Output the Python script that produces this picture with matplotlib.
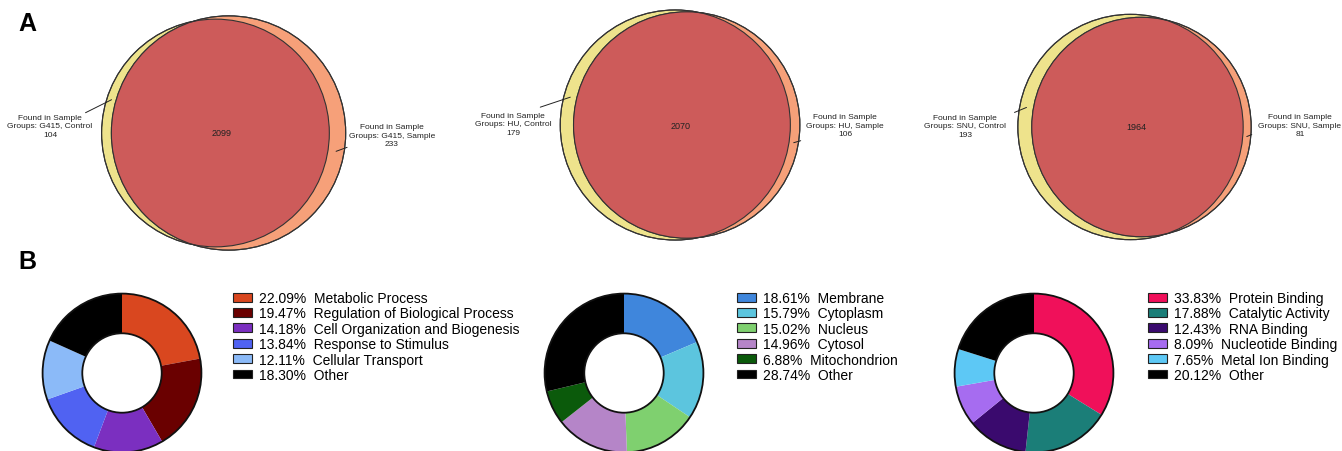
import numpy as np
import matplotlib
matplotlib.use('Agg')
import matplotlib.pyplot as plt
from matplotlib.patches import Circle, Patch

plt.rcParams['font.family'] = ['Liberation Sans', 'DejaVu Sans']

# Venn counts: (control only, shared, sample only)
venn_groups = ['G415', 'HU', 'SNU']
control_only = [104, 179, 193]
shared = [2099, 2070, 1964]
sample_only = [233, 106, 81]

# GO categories
bp_names = ['Metabolic Process', 'Regulation of Biological Process', 'Cell Organization and Biogenesis',
            'Response to Stimulus', 'Cellular Transport', 'Other']
bp_pct = [22.09, 19.47, 14.18, 13.84, 12.11, 18.30]
bp_colors = ['#d9471f', '#6a0000', '#7b2fc0', '#5062f2', '#8bbaf8', '#000000']

cc_names = ['Membrane', 'Cytoplasm', 'Nucleus', 'Cytosol', 'Mitochondrion', 'Other']
cc_pct = [18.61, 15.79, 15.02, 14.96, 6.88, 28.74]
cc_colors = ['#3f86dc', '#5cc5de', '#7fd06f', '#b585c8', '#0b5a0b', '#000000']

mf_names = ['Protein Binding', 'Catalytic Activity', 'RNA Binding', 'Nucleotide Binding',
            'Metal Ion Binding', 'Other']
mf_pct = [33.83, 17.88, 12.43, 8.09, 7.65, 20.12]
mf_colors = ['#f0105a', '#1b7e78', '#3a0a6e', '#a66cf0', '#5dc8f5', '#000000']

W, H = 1342, 452
fig = plt.figure(figsize=(W / 100, H / 100), dpi=100)


def fx(px):
    return px / W


def fy(py):
    return 1 - py / H


def overlap_area(r1, r2, d):
    if d >= r1 + r2:
        return 0.0
    if d <= abs(r1 - r2):
        return np.pi * min(r1, r2) ** 2
    a1 = r1 ** 2 * np.arccos((d ** 2 + r1 ** 2 - r2 ** 2) / (2 * d * r1))
    a2 = r2 ** 2 * np.arccos((d ** 2 + r2 ** 2 - r1 ** 2) / (2 * d * r2))
    a3 = 0.5 * np.sqrt((-d + r1 + r2) * (d + r1 - r2) * (d - r1 + r2) * (d + r1 + r2))
    return a1 + a2 - a3


def solve_d(r1, r2, target):
    lo, hi = abs(r1 - r2), r1 + r2
    for _ in range(80):
        mid = (lo + hi) / 2
        if overlap_area(r1, r2, mid) > target:
            lo = mid
        else:
            hi = mid
    return (lo + hi) / 2


# layout of the venn panels (pixels)
venn_centers = [(222, 134), (681, 126), (1136, 128)]
left_lab = [(50, 127), (513, 125), (965, 127)]
right_lab = [(392, 136), (845, 126), (1300, 126)]
left_ang = [163, 166, 170]
left_off = [(-26, -13), (-30, -10), (-12, -5)]
right_ang = [-9, -9, -5]
right_off = [(11, 4), (7, 2), (5, 2)]
scale = 4.3
bw, bh = 300, 262

for i, g in enumerate(venn_groups):
    cx, cy = venn_centers[i]
    ax = fig.add_axes([fx(cx - bw / 2), fy(cy + bh / 2), bw / W, bh / H])
    ax.set_xlim(-bw / 2 / scale, bw / 2 / scale)
    ax.set_ylim(-bh / 2 / scale, bh / 2 / scale)
    ax.axis('off')
    r1 = np.sqrt((control_only[i] + shared[i]) / np.pi)
    r2 = np.sqrt((sample_only[i] + shared[i]) / np.pi)
    d = solve_d(r1, r2, shared[i])
    c1 = (-d / 2, 0)
    c2 = (d / 2, 0)
    ax.add_patch(Circle(c1, r1, facecolor='#eee38c', edgecolor='#333333', lw=0.8))
    ax.add_patch(Circle(c2, r2, facecolor='#f6a079', edgecolor='#333333', lw=0.8))
    clip = Circle(c1, r1, transform=ax.transData, facecolor='none', edgecolor='none')
    ax.add_patch(clip)
    inter = Circle(c2, r2, facecolor='#cd5b5a', edgecolor='none')
    ax.add_patch(inter)
    inter.set_clip_path(clip)
    ax.add_patch(Circle(c1, r1, facecolor='none', edgecolor='#333333', lw=0.8))
    ax.add_patch(Circle(c2, r2, facecolor='none', edgecolor='#333333', lw=0.8))
    ax.text(0, 0, str(shared[i]), ha='center', va='center', fontsize=6.5, color='#222222')

    # leader lines to the crescents
    t = np.deg2rad(left_ang[i])
    pl = ((c1[0] + r1 * np.cos(t) + c2[0] + r2 * np.cos(t)) / 2, r1 * np.sin(t))
    ax.annotate('', xy=pl, xytext=left_off[i], textcoords='offset pixels',
                arrowprops=dict(arrowstyle='-', color='#222222', lw=0.7, shrinkA=0, shrinkB=0))
    t = np.deg2rad(right_ang[i])
    pr = ((c1[0] + r1 * np.cos(t) + c2[0] + r2 * np.cos(t)) / 2, r2 * np.sin(t))
    ax.annotate('', xy=pr, xytext=right_off[i], textcoords='offset pixels',
                arrowprops=dict(arrowstyle='-', color='#222222', lw=0.7, shrinkA=0, shrinkB=0))

    fig.text(fx(left_lab[i][0]), fy(left_lab[i][1]),
             f'Found in Sample\nGroups: {g}, Control\n{control_only[i]}',
             ha='center', va='center', fontsize=6, color='#222222', linespacing=1.3)
    fig.text(fx(right_lab[i][0]), fy(right_lab[i][1]),
             f'Found in Sample\nGroups: {g}, Sample\n{sample_only[i]}',
             ha='center', va='center', fontsize=6, color='#222222', linespacing=1.3)

# donut panels
donut_centers = [(122, 374), (624, 374), (1034, 374)]
R = 81
legend_pos = [(233, 292), (737, 292), (1148, 292)]
sets = [(bp_names, bp_pct, bp_colors), (cc_names, cc_pct, cc_colors), (mf_names, mf_pct, mf_colors)]

for (cx, cy), (lx, ly), (names, pct, cols) in zip(donut_centers, legend_pos, sets):
    ax = fig.add_axes([fx(cx - R), fy(cy + R), 2 * R / W, 2 * R / H])
    ax.pie(pct, colors=cols, startangle=90, counterclock=False, radius=1,
           wedgeprops=dict(width=0.5, edgecolor='none'))
    ax.add_patch(Circle((0, 0), 1, facecolor='none', edgecolor='#111111', lw=1.3))
    ax.add_patch(Circle((0, 0), 0.5, facecolor='none', edgecolor='#111111', lw=1.3))
    ax.set_xlim(-1.02, 1.02)
    ax.set_ylim(-1.02, 1.02)
    ax.axis('off')
    handles = [Patch(facecolor=c, edgecolor='#222222', lw=0.8) for c in cols]
    labels = [f'{p:.2f}%  {n}' for p, n in zip(pct, names)]
    fig.legend(handles, labels, loc='upper left', bbox_to_anchor=(fx(lx), fy(ly)),
               frameon=False, fontsize=10, handlelength=1.35, handleheight=0.6,
               handletextpad=0.55, labelspacing=0.1, borderpad=0, borderaxespad=0)

fig.text(fx(18), fy(24), 'A', fontsize=18, fontweight='bold', va='center', ha='left')
fig.text(fx(18), fy(262), 'B', fontsize=18, fontweight='bold', va='center', ha='left')

fig.savefig('out.png', dpi=100)
